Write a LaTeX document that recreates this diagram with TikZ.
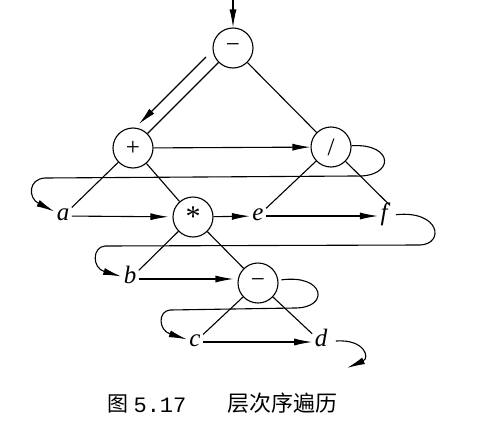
\documentclass[tikz,border=0pt]{standalone}
\usepackage{fontspec}
\setmainfont{Liberation Serif}
\newfontfamily\cjk{Noto Sans CJK SC}
\newfontfamily\numfont{Liberation Mono}
\usetikzlibrary{arrows.meta,calc}

\begin{document}
\begin{tikzpicture}[x=1pt,y=-1pt,line width=1.1pt]
  \tikzset{opnode/.style = {circle,draw,minimum size=40pt,inner sep=0pt,font=\fontsize{25}{25}\selectfont}}
  \tikzset{leaf/.style = {inner sep=2pt,text height=12pt,text depth=4pt,font=\fontsize{25}{25}\selectfont\itshape}}
  \tikzset{edge/.style = {-}}
  \tikzset{visit/.style = {-{Latex[length=18pt,width=7pt]}}}
  \useasboundingbox (0,0) rectangle (487,423);

  % vertices
  \node[opnode] (m1) at (233,48) {\raisebox{-0.05em}{−}};
  \node[opnode] (p) at (133,148) {+};
  \node[opnode] (q) at (331,147) {/};
  \node[opnode] (mul) at (193,217) {\fontsize{30}{30}\selectfont\raisebox{-0.33em}{*}};
  \node[opnode] (m2) at (258,283) {\raisebox{-0.05em}{−}};
  \node[leaf] (a) at (63,216) {a};
  \node[leaf] (e) at (258,216) {e};
  \node[leaf] (f) at (384,216) {f};
  \node[leaf] (b) at (130,279) {b};
  \node[leaf] (c) at (195,342) {c};
  \node[leaf] (d) at (321,342) {d};

  % edges
  \foreach \u/\v in {m1/p,m1/q,p/a,p/mul,q/e,mul/b,mul/m2,m2/c,m2/d}
    {\draw[edge] (\u) -- (\v);}
  \draw[edge] (q) -- (f.north east);

  % order of visit
  \coordinate (top) at (233,0);
  \draw[visit] (top) -- (m1);
  \draw[visit] ($(m1)!0.18!(p)+(-9,-9)$) -- ($(m1)!0.85!(p)+(-9,-9)$);
  \draw[visit] (p) -- (q);
  \draw[visit] (q) .. controls (395,143) and (395,178) .. (355,176) -- (45,178)
    .. controls (28,179) and (28,198) .. (a);
  \draw[visit,shorten >=4pt] (a) -- (mul);
  \draw[visit] (mul) -- (e);
  \draw[visit] (e) -- (f);
  \draw[visit,shorten <=6pt] (f) .. controls (440,210) and (445,244) .. (420,245) -- (105,246)
    .. controls (92,247) and (92,268) .. (b);
  \draw[visit,shorten >=4pt] (b.east) -- (b.east -| m2.west);
  \draw[visit,shorten <=3pt] (m2) .. controls (325,274) and (330,308) .. (295,308) -- (170,310)
    .. controls (158,311) and (158,330) .. (c);
  \draw[visit] (c) -- (d);
  \coordinate (dend) at (347,368);
  \draw[visit,shorten <=6pt] (d) .. controls (365,339) and (370,358) .. (dend);

  % caption
  \node[anchor=base west,inner sep=0pt,font=\fontsize{21}{21}\selectfont\cjk] (fig) at (107,411) {图};
  \node[anchor=base west,inner sep=0pt,font=\fontsize{22}{22}\selectfont\numfont] (num) at (133,412) {5.17};
  \node[anchor=base west,inner sep=0pt,font=\fontsize{22}{22}\selectfont\cjk] (title) at (227,411) {层次序遍历};
\end{tikzpicture}
\end{document}
